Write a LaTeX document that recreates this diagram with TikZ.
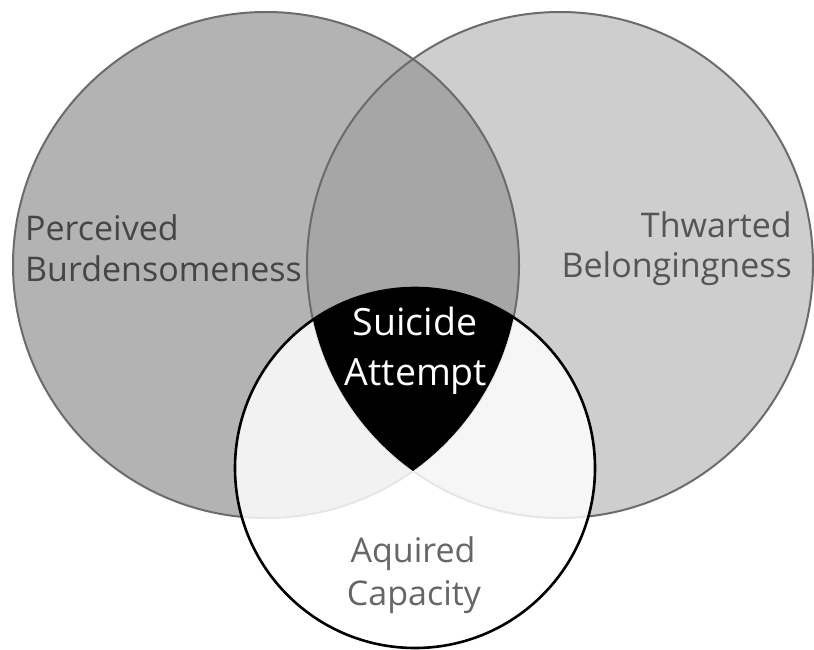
\documentclass[tikz,border=0pt]{standalone}
\usepackage{fontspec}
\setmainfont{Open Sans}
\definecolor{lfill}{HTML}{B3B3B3}
\definecolor{rfill}{HTML}{CECECE}
\definecolor{ofill}{HTML}{A6A6A6}
\definecolor{edge}{HTML}{6B6B6B}
\definecolor{txtdark}{HTML}{454545}
\definecolor{txtmid}{HTML}{555555}
\definecolor{txtlight}{HTML}{666666}
\begin{document}
\begin{tikzpicture}[x=1pt,y=-1pt,
  lbl/.style={inner sep=0pt, font=\fontsize{34}{40}\selectfont},
  biglbl/.style={inner sep=0pt, font=\fontsize{37.5}{44}\selectfont},
  greyedge/.style={draw=edge, line width=2pt},
]
\useasboundingbox (0,0) rectangle (814,650);
\coordinate (L) at (266,265);
\coordinate (R) at (560,265);
\coordinate (B) at (415,468);
% fills
\fill[lfill] (L) circle[radius=253];
\fill[rfill] (R) circle[radius=253];
\begin{scope}
  \clip (L) circle[radius=253];
  \fill[ofill] (R) circle[radius=253];
\end{scope}
% outlines
\draw[greyedge] (L) circle[radius=253];
\draw[greyedge] (R) circle[radius=253];
% bottom circle translucent white
\fill[white, fill opacity=0.83] (B) circle[radius=180];
% triple intersection
\begin{scope}
  \clip (L) circle[radius=253];
  \clip (R) circle[radius=253];
  \fill[black] (B) circle[radius=180];
\end{scope}
\draw[black, line width=2.6pt] (B) circle[radius=180];
% labels
\node[lbl, text=txtdark, anchor=base west] (pb1) at (25,240) {Perceived};
\node[lbl, text=txtdark, anchor=base west] (pb2) at (25,281) {Burdensomeness};
\node[lbl, text=txtmid, anchor=base east] (tb1) at (792,237) {Thwarted};
\node[lbl, text=txtmid, anchor=base east] (tb2) at (792,277) {Belongingness};
\node[biglbl, text=white, anchor=base] (sa1) at (415,335) {Suicide};
\node[biglbl, text=white, anchor=base] (sa2) at (416,385) {Attempt};
\node[lbl, text=txtlight, anchor=base] (ac1) at (413,562) {Aquired};
\node[lbl, text=txtlight, anchor=base] (ac2) at (414,605) {Capacity};
\end{tikzpicture}
\end{document}
